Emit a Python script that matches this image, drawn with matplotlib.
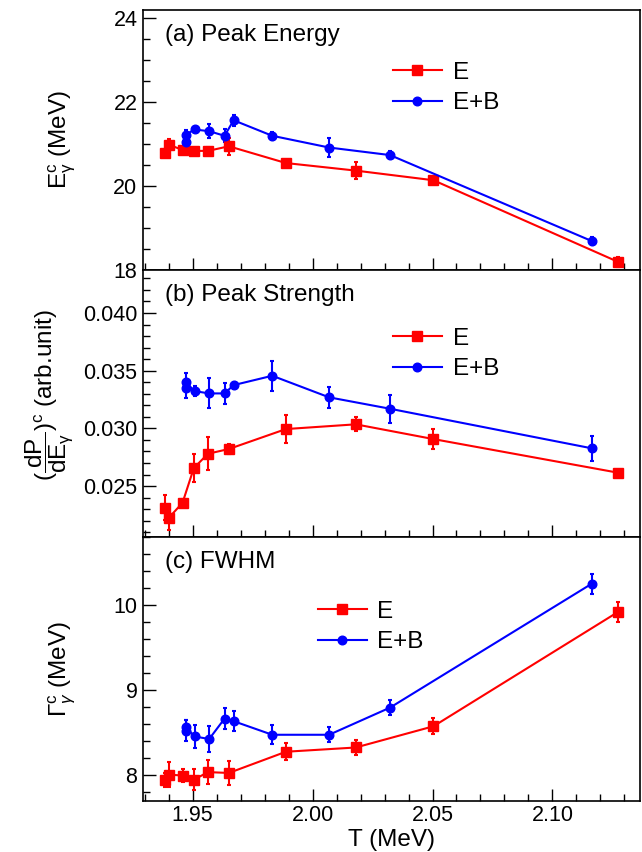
import numpy as np
import matplotlib
matplotlib.use("Agg")
import matplotlib.pyplot as plt
from matplotlib.ticker import MultipleLocator

plt.rcParams['font.family'] = ['Liberation Sans', 'DejaVu Sans']
plt.rcParams['mathtext.fontset'] = 'custom'
plt.rcParams['mathtext.rm'] = 'Liberation Sans'
plt.rcParams['mathtext.it'] = 'Liberation Sans:italic'
plt.rcParams['mathtext.bf'] = 'Liberation Sans:bold'

# temperatures
T_E = [1.9385, 1.9401, 1.9458, 1.9505, 1.9564, 1.9651, 1.9889, 2.0180, 2.0504, 2.1275]
T_EB = [1.9471, 1.9472, 1.9508, 1.9569, 1.9633, 1.9671, 1.9832, 2.0069, 2.0323, 2.1164]

# (a) peak energy
energy_E = [20.79, 20.99, 20.86, 20.84, 20.84, 20.95, 20.55, 20.37, 20.14, 18.19]
energy_E_err = [0.08, 0.13, 0.08, 0.08, 0.10, 0.20, 0.06, 0.20, 0.06, 0.12]
energy_EB = [21.05, 21.23, 21.35, 21.31, 21.20, 21.57, 21.20, 20.92, 20.74, 18.69]
energy_EB_err = [0.08, 0.10, 0.06, 0.17, 0.15, 0.13, 0.10, 0.22, 0.10, 0.10]

# (b) peak strength
strength_E = [0.02312, 0.02225, 0.02355, 0.02656, 0.02780, 0.02821, 0.02994, 0.03035, 0.02907, 0.02615]
strength_E_err = [0.0011, 0.0011, 0.0003, 0.00125, 0.00145, 0.0004, 0.0012, 0.0006, 0.0009, 0.0001]
strength_EB = [0.03347, 0.03399, 0.03323, 0.03303, 0.03303, 0.03375, 0.03456, 0.03269, 0.03170, 0.02827]
strength_EB_err = [0.0008, 0.0008, 0.0004, 0.0013, 0.0009, 0.0003, 0.0013, 0.0009, 0.0012, 0.0011]

# (c) FWHM
fwhm_E = [7.94, 8.00, 7.99, 7.94, 8.03, 8.02, 8.27, 8.32, 8.57, 9.92]
fwhm_E_err = [0.08, 0.145, 0.08, 0.125, 0.14, 0.14, 0.10, 0.09, 0.095, 0.12]
fwhm_EB = [8.52, 8.56, 8.45, 8.42, 8.66, 8.63, 8.47, 8.47, 8.79, 10.25]
fwhm_EB_err = [0.12, 0.08, 0.14, 0.15, 0.12, 0.12, 0.11, 0.09, 0.09, 0.12]

panel_titles = ['(a) Peak Energy', '(b) Peak Strength', '(c) FWHM']
ylabels = [r'$\mathregular{E^{c}_{\gamma}}$ (MeV)',
           r'$(\dfrac{\mathrm{dP}}{\mathrm{dE_{\gamma}}})^{\mathrm{c}}$ (arb.unit)',
           r'$\Gamma^{\mathrm{c}}_{\gamma}$ (MeV)']

fs = 15.5     # tick labels
fs_text = 17.5  # titles, legends, axis labels
fig = plt.figure(figsize=(6.42, 8.52), dpi=100)
left, right = 0.2227, 0.9969
bounds = [(0.6831, 0.9883), (0.3697, 0.6831), (0.0599, 0.3697)]
axes = []
for b0, b1 in bounds:
    ax = fig.add_axes([left, b0, right - left, b1 - b0])
    axes.append(ax)

data = [
    (energy_E, energy_E_err, energy_EB, energy_EB_err),
    (strength_E, strength_E_err, strength_EB, strength_EB_err),
    (fwhm_E, fwhm_E_err, fwhm_EB, fwhm_EB_err),
]
ylims = [(18.0, 24.2), (0.02058, 0.04373), (7.69, 10.8)]
ymajor = [2, 0.005, 1]
yminor = [0.5, 0.001, 0.2]
yfmt = ['{:.0f}', '{:.3f}', '{:.0f}']
leg_pos = [(0.503, 0.80), (0.503, 0.783), (0.352, 0.758)]
label_x = [-0.131, -0.137, -0.131]
label_y = [0.5, 0.53, 0.5]

for i, ax in enumerate(axes):
    yE, eE, yEB, eEB = data[i]
    c1 = ax.errorbar(T_E, yE, yerr=eE, fmt='s-', color='#ff0000', ms=7.2, lw=1.5,
                     elinewidth=1.5, capsize=1.6, capthick=1.5)
    c2 = ax.errorbar(T_EB, yEB, yerr=eEB, fmt='o-', color='#0000ff', ms=6.2, lw=1.5,
                     elinewidth=1.5, capsize=1.6, capthick=1.5)
    ax.set_xlim(1.9293, 2.1365)
    ax.set_ylim(*ylims[i])
    ax.xaxis.set_major_locator(MultipleLocator(0.05))
    ax.xaxis.set_minor_locator(MultipleLocator(0.01))
    ax.yaxis.set_major_locator(MultipleLocator(ymajor[i]))
    ax.yaxis.set_minor_locator(MultipleLocator(yminor[i]))
    f = yfmt[i]
    ax.yaxis.set_major_formatter(plt.FuncFormatter(lambda v, p, f=f: f.format(v)))
    ax.tick_params(which='both', direction='in', labelsize=fs, width=1.0)
    ax.tick_params(which='major', length=9, pad=4)
    ax.tick_params(which='minor', length=5)
    for sp in ax.spines.values():
        sp.set_linewidth(1.2)
    if i < 2:
        ax.tick_params(labelbottom=False)
    ax.text(0.044, 0.905, panel_titles[i], transform=ax.transAxes, fontsize=fs_text,
            ha='left', va='center')
    ax.set_ylabel(ylabels[i], fontsize=fs_text)
    ax.yaxis.set_label_coords(label_x[i], label_y[i])
    # legend shows only line + marker, no error bars
    ax.legend([c1.lines[0], c2.lines[0]], ['E', 'E+B'], loc='upper left',
              bbox_to_anchor=leg_pos[i], frameon=False, fontsize=fs_text,
              handlelength=2.0, handletextpad=0.45, labelspacing=0.34,
              borderpad=0, borderaxespad=0)

axes[2].xaxis.set_major_formatter(plt.FuncFormatter(lambda v, p: '{:.2f}'.format(v)))
axes[2].tick_params(axis='x', pad=3)
axes[2].set_xlabel('T (MeV)', fontsize=fs_text, labelpad=2)

fig.savefig('out.png', dpi=100)
